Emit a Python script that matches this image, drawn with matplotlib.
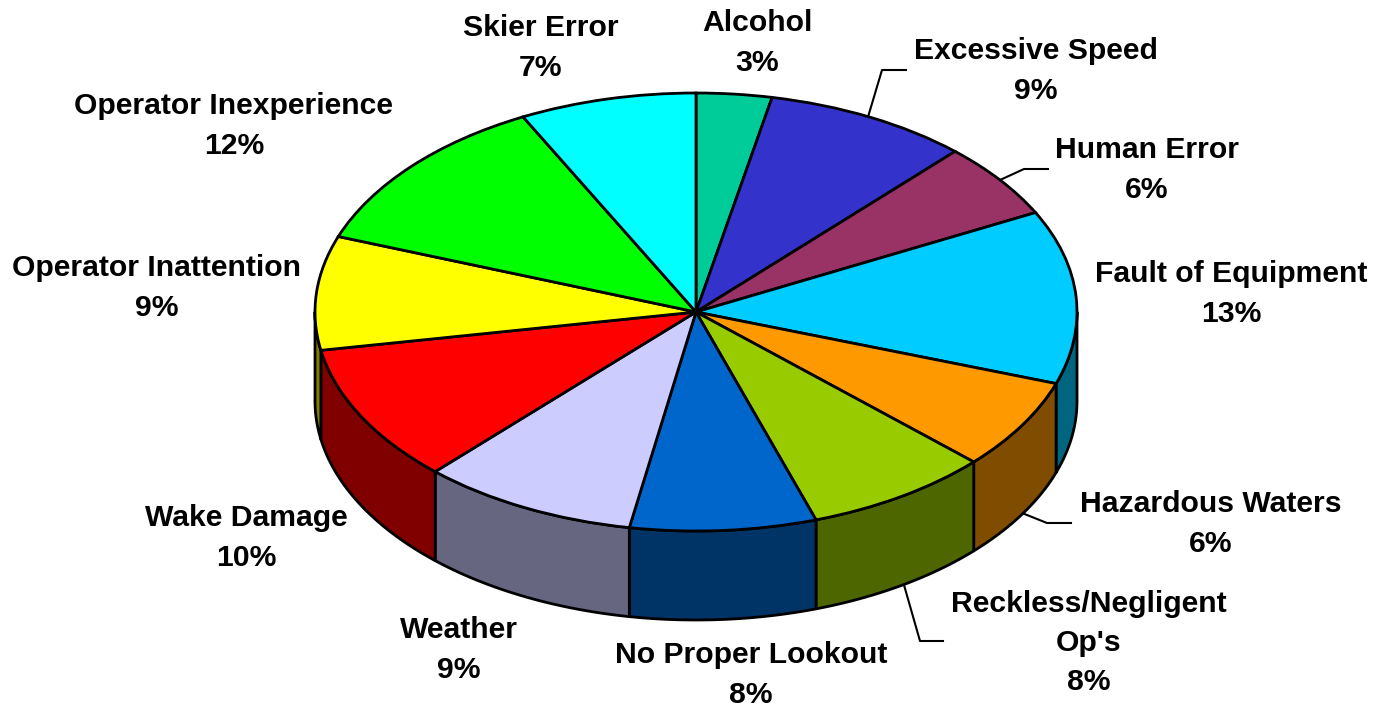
import matplotlib
matplotlib.use("Agg")
import matplotlib.pyplot as plt
import numpy as np

plt.rcParams["font.family"] = ["Liberation Sans", "DejaVu Sans"]

causes = ["Alcohol", "Excessive Speed", "Human Error", "Fault of Equipment",
          "Hazardous Waters", "Reckless/Negligent\nOp's", "No Proper Lookout",
          "Weather", "Wake Damage", "Operator Inattention",
          "Operator Inexperience", "Skier Error"]
shares = [3.2, 8.7, 5.6, 12.8, 6.7, 7.9, 7.9, 9.2, 10.2, 8.4, 11.9, 7.5]
pct_labels = ["3%", "9%", "6%", "13%", "6%", "8%", "8%", "9%", "10%", "9%", "12%", "7%"]
top_colors = ["#00CC99", "#3333CC", "#993366", "#00CCFF", "#FF9900", "#99CC00",
              "#0066CC", "#CCCCFF", "#FF0000", "#FFFF00", "#00FF00", "#00FFFF"]
side_colors = ["#006650", "#1A1A66", "#4D1A33", "#006680", "#804D00", "#4D6600",
               "#003366", "#666680", "#800000", "#808000", "#008000", "#008080"]

# pixel layout of the picture
W, H = 1373, 706
cx, cy, rx, ry = 696, 312, 381, 219
depth = 89 / ry


def to_x(px):
    return (px - cx) / rx


def to_y(py):
    return (cy - py) / ry


fig = plt.figure(figsize=(W / 100, H / 100), dpi=100)
ax = fig.add_axes([0, 0, 1, 1])

wedges, _ = ax.pie(shares, colors=top_colors, startangle=90, counterclock=False,
                   wedgeprops=dict(edgecolor="black", linewidth=2.0, zorder=5))
ax.set_aspect("auto")
ax.set_xlim(to_x(0), to_x(W))
ax.set_ylim(to_y(H), to_y(0))
ax.axis("off")

# side walls, only the part of each slice on the front half of the rim
for w, side in zip(wedges, side_colors):
    lo, hi = w.theta1 % 360, w.theta2 % 360
    if hi <= lo:
        hi += 360
    a1, a2 = max(lo, 180), min(hi, 360)
    if a2 <= a1:
        continue
    t = np.radians(np.linspace(a1, a2, 80))
    xs = np.cos(t)
    ys = np.sin(t)
    ax.fill(np.r_[xs, xs[::-1]], np.r_[ys, ys[::-1] - depth], facecolor=side,
            edgecolor="black", linewidth=2.0, zorder=2, joinstyle="round")

# leader lines
leaders = [([868, 882, 906], [117, 70, 70]),
           ([1000, 1024, 1048], [180, 169, 169]),
           ([1022, 1047, 1071], [513, 523, 523]),
           ([904, 920, 943], [585, 641, 641])]
for lx, ly in leaders:
    ax.plot([to_x(v) for v in lx], [to_y(v) for v in ly], color="black", lw=1.5, zorder=1)

label_pos = [(757, 43), (1036, 71), (1147, 170), (1231, 294), (1211, 524),
             (1089, 643), (751, 675), (459, 650), (246, 538), (157, 288),
             (234, 126), (541, 48)]
for name, pct, (px, py) in zip(causes, pct_labels, label_pos):
    ax.text(to_x(px), to_y(py), name + "\n" + pct, ha="center", va="center",
            fontsize=21.7, fontweight="bold", color="black", linespacing=1.52, zorder=6)

fig.savefig("out.png", dpi=100)
